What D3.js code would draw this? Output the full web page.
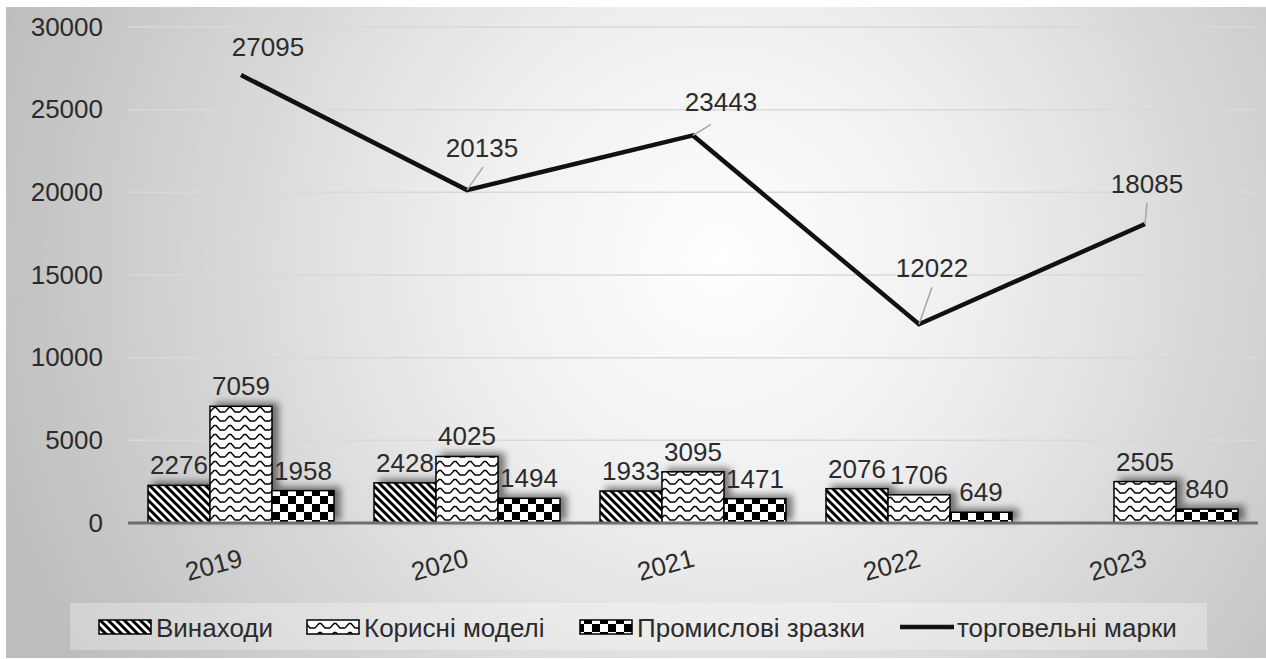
<!DOCTYPE html>
<html>
<head>
<meta charset="utf-8">
<script src="https://cdn.jsdelivr.net/npm/d3@7"></script>
<style>
  html, body { margin: 0; padding: 0; background: #fff; }
  svg { display: block; font-family: "Liberation Sans", Arial, sans-serif; }
</style>
</head>
<body>
<svg id="Vis" width="1266" height="659"></svg>
<script>
/*
* DATA
*/
const years = ["2019", "2020", "2021", "2022", "2023"];
const seriesNames = ["Винаходи", "Корисні моделі", "Промислові зразки"];
const inventions = [2276, 2428, 1933, 2076, null];
const utilityModels = [7059, 4025, 3095, 1706, 2505];
const designs = [1958, 1494, 1471, 649, 840];
const trademarks = [27095, 20135, 23443, 12022, 18085];
const lineName = "торговельні марки";
const yTicks = [0, 5000, 10000, 15000, 20000, 25000, 30000];

/* label placement for the line labels (offset from point, leader end) */
const lineLabelPos = [
  { dx: 27, dy: -19, leader: null },
  { dx: 15, dy: -33, leader: [16, -23] },
  { dx: 28, dy: -24, leader: [18, -11] },
  { dx: 13, dy: -47, leader: [13, -37] },
  { dx: 2, dy: -31, leader: [2, -21] }
];

const textColor = "#2b2b2b";

/*
* SETUP
*/
const svg = d3.select("svg#Vis");
const defs = svg.append("defs");

const margin = { left: 128, right: 1258, top: 27, bottom: 523 };

/* background gradient */
const bg = defs.append("radialGradient")
  .attr("id", "bg")
  .attr("gradientUnits", "userSpaceOnUse")
  .attr("cx", 720).attr("cy", 260).attr("r", 760);
bg.append("stop").attr("offset", "0%").attr("stop-color", "#ffffff");
bg.append("stop").attr("offset", "35%").attr("stop-color", "#eeeeee");
bg.append("stop").attr("offset", "100%").attr("stop-color", "#bdbdbd");

/* patterns */
const pDiag = defs.append("pattern").attr("id", "p0")
  .attr("patternUnits", "userSpaceOnUse").attr("width", 8).attr("height", 8);
pDiag.append("rect").attr("width", 8).attr("height", 8).attr("fill", "#fff");
pDiag.append("path").attr("d", "M-2,-2L10,10M-2,6L2,10M6,-2L10,2")
  .attr("stroke", "#000").attr("stroke-width", 3);

const pWave = defs.append("pattern").attr("id", "p1")
  .attr("patternUnits", "userSpaceOnUse").attr("width", 15).attr("height", 9);
pWave.append("rect").attr("width", 15).attr("height", 9).attr("fill", "#fff");
pWave.append("path").attr("d", "M0,7L4,2.5L6,2.5L10,7L15,7")
  .attr("stroke", "#000").attr("stroke-width", 1.4).attr("fill", "none");

const pCheck = defs.append("pattern").attr("id", "p2")
  .attr("patternUnits", "userSpaceOnUse").attr("width", 16).attr("height", 16);
pCheck.append("rect").attr("width", 16).attr("height", 16).attr("fill", "#fff");
pCheck.append("rect").attr("width", 8).attr("height", 8).attr("fill", "#000");
pCheck.append("rect").attr("x", 8).attr("y", 8).attr("width", 8).attr("height", 8).attr("fill", "#000");

/* bar shadow */
const shadow = defs.append("filter").attr("id", "shadow")
  .attr("x", "-20%").attr("y", "-20%").attr("width", "160%").attr("height", "140%");
shadow.append("feDropShadow")
  .attr("dx", 6).attr("dy", -3).attr("stdDeviation", 3.5)
  .attr("flood-color", "#000").attr("flood-opacity", 0.5);

/* chart background */
svg.append("rect")
  .attr("x", 6).attr("y", 7).attr("width", 1260).attr("height", 651)
  .attr("fill", "url(#bg)");

/*
* SCALES
*/
const x = d3.scaleBand().domain(years).range([margin.left, margin.right]);
const x1 = d3.scaleBand().domain(seriesNames).range([20, x.bandwidth() - 20]);
const y = d3.scaleLinear().domain([0, 30000]).range([margin.bottom, margin.top]);

const barSeries = [inventions, utilityModels, designs];

/* gridlines */
svg.append("g").selectAll("line")
  .data(yTicks.slice(1))
  .join("line")
  .attr("x1", margin.left).attr("x2", margin.right)
  .attr("y1", d => y(d)).attr("y2", d => y(d))
  .attr("stroke", "#d9d9d9").attr("stroke-width", 1.5);

/* y axis labels */
const yAxis = d3.axisLeft(y).tickValues(yTicks).tickSize(0).tickPadding(0)
  .tickFormat(d3.format("d"));
const gy = svg.append("g").attr("transform", "translate(103,0)").call(yAxis);
gy.select(".domain").remove();
gy.selectAll("text")
  .attr("font-size", 26).attr("fill", textColor)
  .style("font-family", "'Liberation Sans', Arial, sans-serif");

/*
* BARS
*/
const barData = [];
years.forEach((yr, i) => {
  seriesNames.forEach((s, j) => {
    const v = barSeries[j][i];
    if (v != null) barData.push({ year: yr, series: s, idx: j, value: v });
  });
});

const bars = svg.append("g").attr("filter", "url(#shadow)");
bars.selectAll("rect")
  .data(barData)
  .join("rect")
  .attr("x", d => x(d.year) + x1(d.series))
  .attr("y", d => y(d.value))
  .attr("width", x1.bandwidth())
  .attr("height", d => y(0) - y(d.value))
  .attr("fill", d => "url(#p" + d.idx + ")")
  .attr("stroke", "#000").attr("stroke-width", 1.5);

svg.append("g").selectAll("text")
  .data(barData)
  .join("text")
  .attr("x", d => x(d.year) + x1(d.series) + x1.bandwidth() / 2)
  .attr("y", d => y(d.value) - 11)
  .attr("text-anchor", "middle")
  .attr("font-size", 26).attr("fill", textColor)
  .text(d => d.value);

/* x axis line */
svg.append("line")
  .attr("x1", margin.left).attr("x2", margin.right)
  .attr("y1", y(0)).attr("y2", y(0))
  .attr("stroke", "#6e6e6e").attr("stroke-width", 3);

/* x labels */
svg.append("g").selectAll("text")
  .data(years)
  .join("text")
  .attr("text-anchor", "end")
  .attr("transform", d => "translate(" + (x(d) + x.bandwidth() / 2 + 3) + ",566) rotate(-15)")
  .attr("font-size", 26).attr("fill", textColor)
  .text(d => d);

/*
* LINE
*/
const linePts = years.map((yr, i) => ({ year: yr, value: trademarks[i], pos: lineLabelPos[i] }));
const cx = d => x(d.year) + x.bandwidth() / 2;

svg.append("path")
  .datum(linePts)
  .attr("d", d3.line().x(cx).y(d => y(d.value)))
  .attr("fill", "none")
  .attr("stroke", "#111").attr("stroke-width", 4.5)
  .attr("stroke-linejoin", "miter");

svg.append("g").selectAll("line")
  .data(linePts.filter(d => d.pos.leader))
  .join("line")
  .attr("x1", cx).attr("y1", d => y(d.value))
  .attr("x2", d => cx(d) + d.pos.leader[0])
  .attr("y2", d => y(d.value) + d.pos.leader[1])
  .attr("stroke", "#a6a6a6").attr("stroke-width", 1.5);

svg.append("g").selectAll("text")
  .data(linePts)
  .join("text")
  .attr("x", d => cx(d) + d.pos.dx)
  .attr("y", d => y(d.value) + d.pos.dy)
  .attr("text-anchor", "middle")
  .attr("font-size", 26).attr("fill", textColor)
  .text(d => d.value);

/*
* LEGEND
*/
svg.append("rect")
  .attr("x", 70).attr("y", 603).attr("width", 1137).attr("height", 47)
  .attr("fill", "#fff").attr("fill-opacity", 0.3);

const legendX = [99, 307, 580, 900];
const legend = svg.append("g");
seriesNames.forEach((s, j) => {
  legend.append("rect")
    .attr("x", legendX[j]).attr("y", 620).attr("width", 52).attr("height", 14)
    .attr("fill", "url(#p" + j + ")")
    .attr("stroke", "#000").attr("stroke-width", 1.5);
  legend.append("text")
    .attr("x", legendX[j] + 57).attr("y", 637)
    .attr("font-size", 26).attr("fill", textColor)
    .text(s);
});
legend.append("line")
  .attr("x1", legendX[3]).attr("x2", legendX[3] + 54)
  .attr("y1", 627).attr("y2", 627)
  .attr("stroke", "#111").attr("stroke-width", 4.5);
legend.append("text")
  .attr("x", legendX[3] + 57).attr("y", 637)
  .attr("font-size", 26).attr("fill", textColor)
  .text(lineName);
</script>
</body>
</html>
